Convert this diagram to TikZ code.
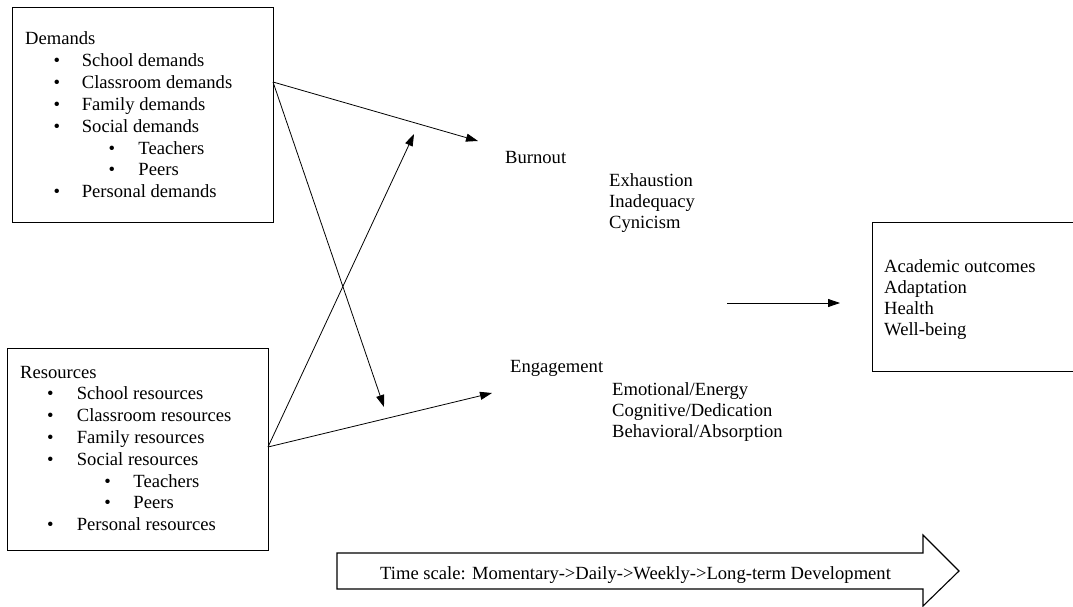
\documentclass[tikz,border=0pt]{standalone}
\usepackage{fontspec}
\setmainfont{Liberation Serif}
\usetikzlibrary{arrows.meta}
\newcommand{\bulletline}[2]{\makebox[#1][l]{\textbullet}#2}
\begin{document}
\begin{tikzpicture}[x=1pt,y=-1pt,
  txt/.style={anchor=base west, inner sep=0pt, font=\fontsize{18.6}{22}\selectfont},
  frame/.style={draw, line width=1.2pt, inner sep=0pt, anchor=north west},
  link/.style={line width=0.8pt, -{Triangle[length=12pt,width=8pt]}},
  timebar/.style={draw, line width=1.1pt, line join=miter}
]
\useasboundingbox (0,0) rectangle (1073,607);

% ---- Demands box ----
\node[frame, minimum width=261pt, minimum height=215pt] (dem) at (12,7) {};
\node[txt] (d0) at (25,45) {Demands};
\node[txt] (d1) at (53.5,66.8) {\bulletline{28.2pt}{School demands}};
\node[txt] (d2) at (53.5,88.6) {\bulletline{28.2pt}{Classroom demands}};
\node[txt] (d3) at (53.5,110.4) {\bulletline{28.2pt}{Family demands}};
\node[txt] (d4) at (53.5,132.2) {\bulletline{28.2pt}{Social demands}};
\node[txt] (d5) at (108.5,154) {\bulletline{29.8pt}{Teachers}};
\node[txt] (d6) at (108.5,175.8) {\bulletline{29.8pt}{Peers}};
\node[txt] (d7) at (53.5,197.6) {\bulletline{28.2pt}{Personal demands}};

% ---- Resources box ----
\node[frame, minimum width=261pt, minimum height=202pt] (res) at (7,348) {};
\node[txt] (r0) at (20,378) {Resources};
\node[txt] (r1) at (46.8,399.8) {\bulletline{29.9pt}{School resources}};
\node[txt] (r2) at (46.8,421.6) {\bulletline{29.9pt}{Classroom resources}};
\node[txt] (r3) at (46.8,443.4) {\bulletline{29.9pt}{Family resources}};
\node[txt] (r4) at (46.8,465.2) {\bulletline{29.9pt}{Social resources}};
\node[txt] (r5) at (104.1,487) {\bulletline{29.2pt}{Teachers}};
\node[txt] (r6) at (104.1,508.8) {\bulletline{29.2pt}{Peers}};
\node[txt] (r7) at (46.8,530.6) {\bulletline{29.9pt}{Personal resources}};

% ---- Burnout ----
\node[txt] (burn) at (505,163) {Burnout};
\node[txt] (b1) at (609,186.7) {Exhaustion};
\node[txt] (b2) at (609,207.5) {Inadequacy};
\node[txt] (b3) at (609,228.3) {Cynicism};

% ---- Engagement ----
\node[txt] (eng) at (510,372) {Engagement};
\node[txt] (e1) at (612,395) {Emotional/Energy};
\node[txt] (e2) at (612,416) {Cognitive/Dedication};
\node[txt] (e3) at (612,437) {Behavioral/Absorption};

% ---- Outcomes box ----
\node[frame, minimum width=230pt, minimum height=149pt] (outc) at (872,222) {};
\node[txt] (o1) at (884,272) {Academic outcomes};
\node[txt] (o2) at (884,293.3) {Adaptation};
\node[txt] (o3) at (884,314.3) {Health};
\node[txt] (o4) at (884,335.3) {Well-being};

% ---- connectors ----
\coordinate (demOut) at (273,82);
\coordinate (resOut) at (268,447);
\coordinate (burnIn) at (478,141);
\coordinate (engIn) at (492,393);
\coordinate (downTip) at (384,407);
\coordinate (upTip) at (414,134);
\coordinate (outStart) at (727,303);
\coordinate (outEnd) at (840,303);

\draw[link] (demOut) -- (burnIn);
\draw[link] (demOut) -- (downTip);
\draw[link] (resOut) -- (upTip);
\draw[link] (resOut) -- (engIn);
\draw[link] (outStart) -- (outEnd);

% ---- time scale arrow ----
\draw[timebar] (337,553) -- (923,553) -- (923,535) -- (959,571)
  -- (923,606) -- (923,589) -- (337,589) -- cycle;
\node[txt] (tscale) at (380,579) {Time scale: Momentary->Daily->Weekly->Long-term Development};
\end{tikzpicture}
\end{document}
